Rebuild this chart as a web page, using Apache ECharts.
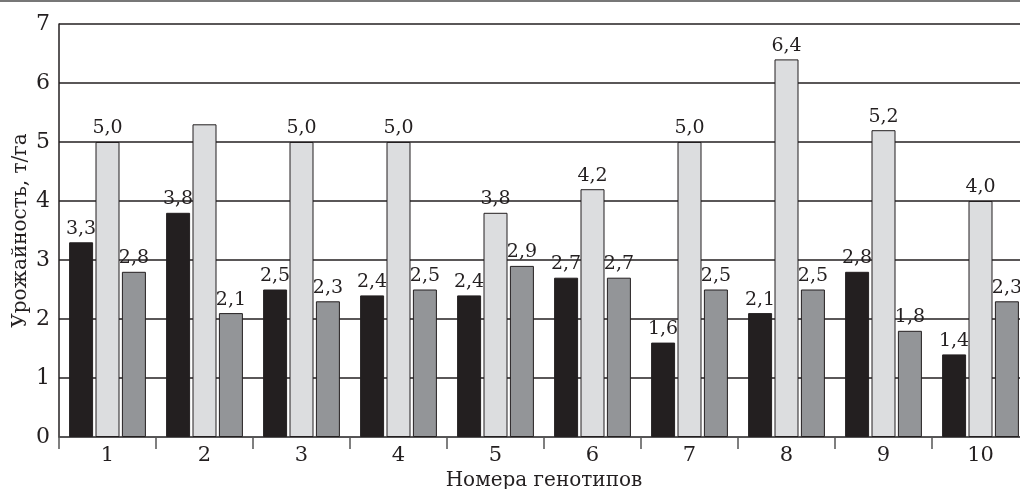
<!DOCTYPE html>
<html>
<head>
<meta charset="utf-8">
<script src="https://cdn.jsdelivr.net/npm/echarts@6/dist/echarts.min.js"></script>
<style>
html,body{margin:0;padding:0;background:#fff;}
#chart{width:1020px;height:489px;}
</style>
</head>
<body>
<div id="chart"></div>
<script>
const categories = ['1','2','3','4','5','6','7','8','9','10'];
const seriesBlack = [3.3, 3.8, 2.5, 2.4, 2.4, 2.7, 1.6, 2.1, 2.8, 1.4];
const seriesLight = [5.0, 5.3, 5.0, 5.0, 3.8, 4.2, 5.0, 6.4, 5.2, 4.0];
const seriesGray  = [2.8, 2.1, 2.3, 2.5, 2.9, 2.7, 2.5, 2.5, 1.8, 2.3];
const hiddenLabels = { light: [1] };
const yTicks = [0,1,2,3,4,5,6,7];
const xName = 'Номера генотипов';
const yName = 'Урожайность, т/га';

const FONT = 'DejaVu Serif';
const fmt = p => p.value.toFixed(1).replace('.', ',');

function mkSeries(name, data, color, hidden) {
  return {
    name: name,
    type: 'bar',
    barWidth: 24,
    barGap: '10%',
    data: data.map((v, i) => ({
      value: v,
      label: { show: !(hidden || []).includes(i) }
    })),
    itemStyle: { color: color, borderColor: '#231f20', borderWidth: 1 },
    label: {
      show: true, position: 'top', distance: 4,
      formatter: fmt, color: '#231f20',
      fontFamily: FONT, fontSize: 19
    }
  };
}

const chart = echarts.init(document.getElementById('chart'));
chart.setOption({
  animation: false,
  backgroundColor: '#fff',
  grid: { left: 59, top: 24, bottom: 52, width: 970, containLabel: false, outerBoundsMode: 'none' },
  graphic: [{
    type: 'line',
    shape: { x1: 0, y1: 1, x2: 1020, y2: 1 },
    style: { stroke: '#777', lineWidth: 2 }
  }],
  xAxis: {
    type: 'category',
    data: categories,
    name: xName,
    nameLocation: 'middle',
    nameGap: 34,
    nameMoveOverlap: false,
    nameTextStyle: { fontFamily: FONT, fontSize: 20, color: '#231f20' },
    axisLine: { lineStyle: { color: '#555', width: 1.5 } },
    axisTick: { show: true, length: 12, lineStyle: { color: '#555', width: 1.5 } },
    axisLabel: { fontFamily: FONT, fontSize: 21, color: '#231f20', margin: 8 }
  },
  yAxis: {
    type: 'value',
    min: yTicks[0], max: yTicks[yTicks.length - 1], interval: 1,
    name: yName,
    nameLocation: 'middle',
    nameGap: 28,
    nameMoveOverlap: false,
    nameTextStyle: { fontFamily: FONT, fontSize: 20, color: '#231f20' },
    axisLine: { show: true, lineStyle: { color: '#231f20', width: 1.5 } },
    axisTick: { show: false },
    axisLabel: { fontFamily: FONT, fontSize: 22, color: '#231f20', margin: 9 },
    splitLine: { lineStyle: { color: '#231f20', width: 1.5 } }
  },
  series: [
    mkSeries('A', seriesBlack, '#231f20'),
    mkSeries('B', seriesLight, '#dcdddf', hiddenLabels.light),
    mkSeries('C', seriesGray, '#939598')
  ]
});
</script>
</body>
</html>
